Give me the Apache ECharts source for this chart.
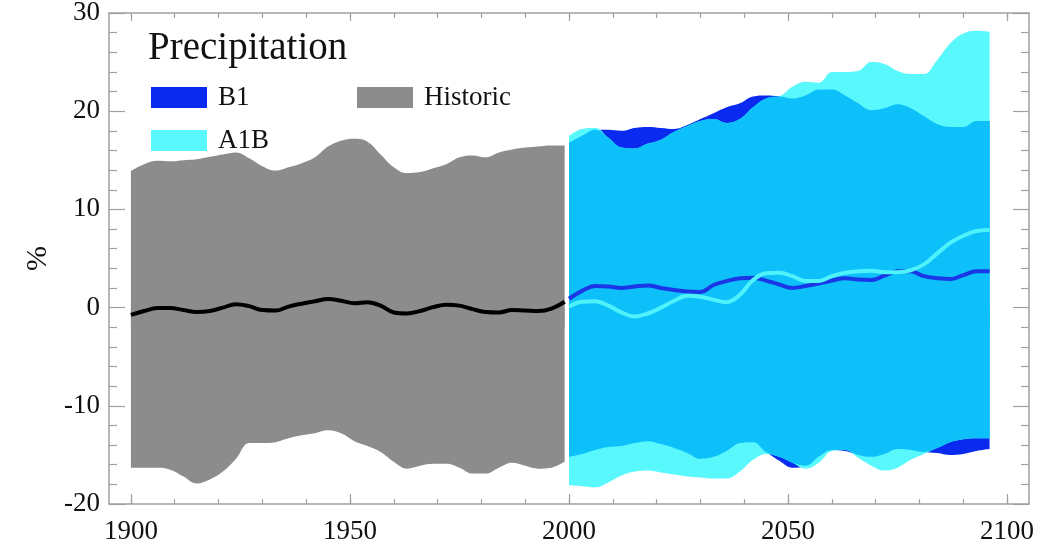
<!DOCTYPE html>
<html>
<head>
<meta charset="utf-8">
<script src="https://cdn.jsdelivr.net/npm/echarts@6/dist/echarts.min.js"></script>
<style>html,body{margin:0;padding:0;background:#fff}#c{width:1042px;height:550px}</style>
</head>
<body>
<div id="c"></div>
<script>
// ---- data ----
const histYears = [1900,1903,1906,1909,1912,1915,1918,1921,1924,1927,1930,1933,1936,1939,1942,1945,1948,1951,1954,1957,1960,1963,1966,1969,1972,1975,1978,1981,1984,1987,1990,1993,1996,1999];
const histUpper = [13.9,14.6,14.95,14.9,15.0,15.1,15.35,15.6,15.8,15.2,14.4,13.95,14.3,14.7,15.3,16.4,17.0,17.2,16.9,15.6,14.3,13.7,13.8,14.2,14.6,15.3,15.5,15.3,15.8,16.1,16.3,16.4,16.5,16.5];
const histLower = [-16.3,-16.3,-16.3,-16.5,-17.2,-17.9,-17.5,-16.7,-15.4,-13.8,-13.8,-13.7,-13.3,-13.0,-12.8,-12.5,-12.8,-13.6,-14.1,-14.7,-15.7,-16.4,-16.1,-15.9,-15.9,-16.3,-16.9,-16.9,-16.3,-15.8,-16.1,-16.4,-16.3,-15.7];
const histMean  = [-0.75,-0.35,-0.05,-0.05,-0.25,-0.45,-0.35,0.0,0.35,0.15,-0.25,-0.3,0.1,0.4,0.65,0.88,0.7,0.45,0.55,0.2,-0.5,-0.6,-0.35,0.05,0.3,0.2,-0.15,-0.45,-0.5,-0.25,-0.3,-0.35,-0.1,0.6];

const futYears = [2000,2003,2006,2009,2012,2015,2018,2021,2024,2027,2030,2033,2036,2039,2042,2045,2048,2051,2054,2057,2060,2063,2066,2069,2072,2075,2078,2081,2084,2087,2090,2093,2096];
const b1Upper  = [16.8,17.5,18.1,18.1,18.0,18.3,18.4,18.3,18.2,18.6,19.2,19.8,20.4,20.8,21.5,21.6,21.5,21.3,21.6,22.2,22.2,21.6,20.8,20.1,20.3,20.7,20.3,19.5,18.7,18.4,18.4,19.0,19.0];
const b1Lower  = [-15.2,-14.9,-14.5,-14.2,-14.1,-13.8,-13.6,-13.9,-14.3,-14.8,-15.4,-15.2,-14.6,-13.8,-13.7,-14.7,-15.6,-16.3,-16.1,-15.2,-14.5,-14.6,-15.0,-15.2,-14.9,-14.4,-14.5,-14.7,-14.8,-15.0,-14.9,-14.6,-14.4];
const b1Mean   = [0.9,1.7,2.2,2.15,2.0,2.15,2.25,2.0,1.8,1.65,1.6,2.3,2.7,3.0,3.05,2.75,2.35,2.0,2.2,2.45,2.75,3.0,2.85,2.8,3.25,3.7,3.7,3.2,3.0,2.9,3.3,3.7,3.7];
const a1bUpper = [17.5,18.2,18.3,17.3,16.3,16.2,16.7,17.1,17.9,18.5,19.0,19.2,18.8,19.2,20.4,21.3,21.5,22.5,23.0,22.9,24.0,24.0,24.1,25.0,24.8,24.1,23.8,23.8,25.2,26.9,27.9,28.2,28.1];
const a1bLower = [-18.1,-18.2,-18.3,-17.8,-17.1,-16.7,-16.6,-16.8,-17.0,-17.2,-17.3,-17.4,-17.4,-16.7,-15.5,-14.9,-15.2,-15.8,-16.4,-15.8,-14.6,-14.5,-15.3,-16.1,-16.6,-16.3,-15.5,-14.9,-14.3,-13.7,-13.4,-13.3,-13.3];
const a1bMean  = [0.1,0.6,0.65,0.2,-0.5,-0.9,-0.6,0.0,0.7,1.2,1.1,0.8,0.55,1.3,2.8,3.5,3.55,3.2,2.7,2.7,3.2,3.55,3.7,3.75,3.6,3.6,3.8,4.4,5.5,6.6,7.3,7.8,7.9];

const xLabelTicks = [1900,1950,2000,2050,2100];
const xMinorTicks = [1900,1910,1920,1930,1940,1950,1960,1970,1980,1990,2000,2010,2020,2030,2040,2050,2060,2070,2080,2090,2100];

// ---- styles ----
const FONT = '"Liberation Serif", "DejaVu Serif", serif';
const C_GRAY = '#8c8c8c', C_B1 = '#0a2af0', C_A1B = '#58f8fc', C_BOTH = '#0dc0f9';
const AXC = '#a0a0a0';

function pairs(xs, ys){ return xs.map((x,i)=>[x, ys[i]]); }
// a band [lo, hi] that always contains 0: upper edge filled down to -2, lower edge filled up to 0
function band(xs, lo, hi, color, name){
  const common = {type:'line', smooth:0.4, symbol:'none', showSymbol:false, silent:true,
    lineStyle:{width:0, opacity:0}, itemStyle:{color:color}};
  return [
    Object.assign({}, common, {name:name || undefined, data:pairs(xs, hi), areaStyle:{color:color, opacity:1, origin:-2}}),
    Object.assign({}, common, {name:name || undefined, data:pairs(xs, lo), areaStyle:{color:color, opacity:1, origin:0}})
  ];
}
const bothLo = b1Lower.map((v,i)=>Math.max(v, a1bLower[i]));
const bothHi = b1Upper.map((v,i)=>Math.min(v, a1bUpper[i]));

function meanLine(xs, ys, color){
  return {type:'line', data:pairs(xs, ys), smooth:0.4, symbol:'none', showSymbol:false, silent:true,
    lineStyle:{width:4, color:color}};
}

const series = [].concat(
  band(histYears, histLower, histUpper, C_GRAY, 'Historic'),
  band(futYears, b1Lower, b1Upper, C_B1, 'B1'),
  band(futYears, a1bLower, a1bUpper, C_A1B, 'A1B'),
  band(futYears, bothLo, bothHi, C_BOTH),
  [meanLine(histYears, histMean, '#000000'),
   meanLine(futYears, b1Mean, '#1a36e6'),
   meanLine(futYears, a1bMean, '#4ef2fa')]
);

function xAx(pos, tickVals, len, showLine, showLabel){
  return {
    type:'value', min:1895, max:2105, position:pos, offset:0,
    axisLine:{show:showLine, onZero:false, lineStyle:{color:AXC, width:1.5}},
    axisTick:{show:true, inside:true, length:len, customValues:tickVals, lineStyle:{color:AXC, width:1.2}},
    minorTick:{show:false}, splitLine:{show:false},
    axisLabel:{show:showLabel, customValues:xLabelTicks, formatter:(v)=>String(v),
      fontFamily:FONT, fontSize:27, color:'#111', margin:14}
  };
}
const baseY = {
  type:'value', min:-20, max:30, interval:10,
  axisLine:{show:true, onZero:false, lineStyle:{color:AXC, width:1.5}},
  axisTick:{show:true, inside:true, length:16, lineStyle:{color:AXC, width:1.2}},
  minorTick:{show:true, splitNumber:5, length:8, lineStyle:{color:AXC, width:1.2}},
  splitLine:{show:false},
  axisLabel:{show:true, fontFamily:FONT, fontSize:27, color:'#111', margin:9, formatter:(v)=>String(v)},
};

const option = {
  animation:false,
  backgroundColor:'#fff',
  title:{text:'Precipitation', left:143, top:24,
    textStyle:{fontFamily:FONT, fontSize:39, fontWeight:'normal', color:'#111'}},
  legend:[
    {orient:'vertical', left:146, top:79, itemWidth:56, itemHeight:21, itemGap:16, icon:'rect',
     selectedMode:false, data:['B1','A1B'], itemStyle:{borderWidth:0},
     textStyle:{fontFamily:FONT, fontSize:27, color:'#111', padding:[0,0,0,6]}},
    {orient:'vertical', left:352, top:79, itemWidth:56, itemHeight:21, icon:'rect',
     selectedMode:false, data:['Historic'], itemStyle:{borderWidth:0},
     textStyle:{fontFamily:FONT, fontSize:27, color:'#111', padding:[0,0,0,6]}}
  ],
  grid:{left:109, right:13, top:13, bottom:46, containLabel:false, outerBoundsMode:'none'},
  xAxis:[
    xAx('bottom', xMinorTicks, 5, true, true),
    xAx('top', xMinorTicks, 5, true, false),
    xAx('bottom', xLabelTicks, 10, false, false),
    xAx('top', xLabelTicks, 8, false, false)
  ],
  yAxis:[
    Object.assign({}, baseY, {position:'left', name:'%', nameLocation:'middle', nameGap:54,
      nameTextStyle:{fontFamily:FONT, fontSize:30, color:'#111'}}),
    Object.assign({}, baseY, {position:'right', axisLabel:{show:false}})
  ],
  series: series
};
const chart = echarts.init(document.getElementById('c'), null, {renderer:'canvas'});
chart.setOption(option);
</script>
</body>
</html>
